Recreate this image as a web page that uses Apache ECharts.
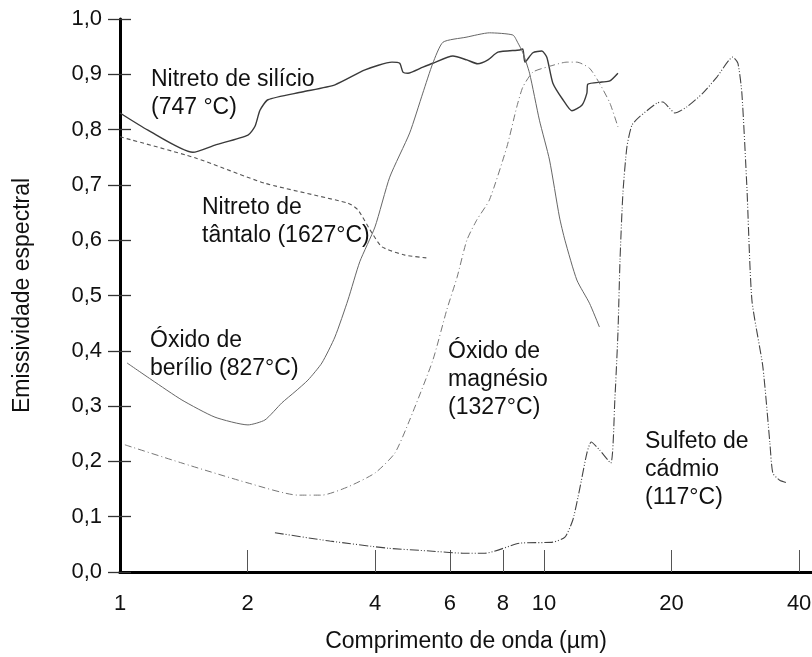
<!DOCTYPE html>
<html>
<head>
<meta charset="utf-8">
<script src="https://cdn.jsdelivr.net/npm/echarts@6/dist/echarts.min.js"></script>
<style>
  html, body { margin: 0; padding: 0; background: #fff; }
  #chart { width: 812px; height: 657px; }
</style>
</head>
<body>
<div id="chart"></div>
<script>
// comprimento de onda (um) x emissividade
var xTicks = [2, 4, 6, 8, 10, 20, 40];
var xLabels = [1, 2, 4, 6, 8, 10, 20, 40];

var nitretoSilicio = [
    [1.0, 0.830], [1.164, 0.799], [1.486, 0.759], [1.675, 0.772], [2.004, 0.790],
    [2.082, 0.806], [2.139, 0.835], [2.234, 0.854], [2.688, 0.868], [3.214, 0.881],
    [3.784, 0.908], [4.381, 0.922], [4.569, 0.920], [4.65, 0.904], [4.777, 0.902],
    [5.184, 0.913], [5.47, 0.920], [6.10, 0.933], [6.58, 0.926], [6.98, 0.919],
    [7.38, 0.926], [7.79, 0.940], [8.77, 0.944], [8.92, 0.946], [9.02, 0.922],
    [9.42, 0.939], [9.89, 0.942], [10.16, 0.931], [10.50, 0.884], [11.09, 0.854],
    [11.64, 0.834], [12.29, 0.844], [12.63, 0.866], [12.69, 0.882], [13.70, 0.886],
    [14.31, 0.888], [14.95, 0.902]
];
var nitretoTantalo = [
    [1.0, 0.787], [1.503, 0.749], [2.198, 0.703], [3.45, 0.667], [3.64, 0.655],
    [3.93, 0.613], [4.15, 0.588], [4.70, 0.573], [5.30, 0.568]
];
var oxidoBerilio = [
    [1.039, 0.378], [1.19, 0.347], [1.400, 0.311], [1.675, 0.280], [2.004, 0.266],
    [2.198, 0.275], [2.41, 0.306], [2.587, 0.326], [2.776, 0.347], [2.994, 0.378],
    [3.214, 0.425], [3.45, 0.492], [3.678, 0.561], [3.995, 0.624], [4.328, 0.714],
    [4.824, 0.794], [5.18, 0.866], [5.47, 0.920], [5.78, 0.958], [6.55, 0.967],
    [7.44, 0.975], [8.45, 0.971], [8.68, 0.957], [8.92, 0.939], [9.25, 0.902],
    [9.76, 0.817], [10.31, 0.745], [10.88, 0.642], [11.21, 0.600], [11.96, 0.528],
    [12.81, 0.486], [13.52, 0.443]
];
var oxidoMagnesio = [
    [1.027, 0.230], [1.400, 0.197], [2.004, 0.161], [2.63, 0.139], [2.994, 0.139],
    [3.45, 0.154], [3.995, 0.179], [4.45, 0.215], [4.824, 0.275], [5.47, 0.383],
    [5.90, 0.474], [6.24, 0.533], [6.58, 0.600], [6.95, 0.637], [7.44, 0.673],
    [8.18, 0.769], [8.63, 0.841], [8.92, 0.877], [9.42, 0.904], [10.16, 0.913],
    [11.33, 0.922], [11.96, 0.922], [12.81, 0.911], [13.52, 0.884], [14.31, 0.848],
    [14.95, 0.805]
];
var sulfetoCadmio = [
    [2.32, 0.071], [3.125, 0.056], [4.29, 0.043], [5.38, 0.038], [6.44, 0.034],
    [7.26, 0.034], [8.76, 0.052], [10.50, 0.054], [11.21, 0.063], [11.70, 0.094],
    [12.13, 0.148], [12.63, 0.215], [12.93, 0.235], [13.52, 0.221], [14.38, 0.197],
    [14.70, 0.311], [14.95, 0.432], [15.12, 0.564], [15.36, 0.685], [15.70, 0.769],
    [16.13, 0.808], [16.80, 0.823], [18.48, 0.848], [19.09, 0.850], [19.77, 0.839],
    [20.37, 0.830], [21.74, 0.841], [23.71, 0.866], [25.59, 0.895], [27.90, 0.931],
    [28.68, 0.920], [29.31, 0.866], [30.12, 0.696], [30.95, 0.492], [32.85, 0.371],
    [34.13, 0.233], [34.68, 0.179], [36.0, 0.166], [37.6, 0.161]
];

var FONT = 'Arial, "Liberation Sans", sans-serif';

function curve(name, data, color, width, type) {
    return {
        name: name,
        type: 'line',
        data: data,
        showSymbol: false,
        smooth: 0.2,
        lineStyle: { color: color, width: width, type: type }
    };
}

function note(text, left, top) {
    return {
        type: 'text',
        left: left,
        top: top,
        style: { text: text, font: '23px ' + FONT, lineHeight: 28, fill: '#111' }
    };
}

var option = {
    backgroundColor: '#fff',
    animation: false,
    grid: { left: 120, right: 0, top: 19, bottom: 85, outerBoundsMode: 'none', containLabel: false },
    xAxis: [{
        type: 'log',
        logBase: 10,
        min: 1,
        max: 42.9,
        name: 'Comprimento de onda (µm)',
        nameLocation: 'middle',
        nameGap: 58,
        nameTextStyle: { fontFamily: FONT, fontSize: 23, color: '#111' },
        axisLine: { lineStyle: { color: '#000', width: 3 } },
        axisTick: { inside: true, length: 22, customValues: xTicks, lineStyle: { color: '#555', width: 1 } },
        axisLabel: { customValues: xLabels, fontFamily: FONT, fontSize: 22, color: '#111', margin: 21 },
        splitLine: { show: false },
        minorTick: { show: false }
    }, {
        type: 'value',
        position: 'top',
        min: 0,
        max: 1,
        axisLine: { lineStyle: { color: '#000', width: 3 } },
        axisTick: { show: false },
        axisLabel: { show: false },
        splitLine: { show: false }
    }],
    yAxis: [{
        type: 'value',
        min: 0,
        max: 1,
        interval: 0.1,
        name: 'Emissividade espectral',
        nameLocation: 'middle',
        nameGap: 86,
        nameTextStyle: { fontFamily: FONT, fontSize: 23, color: '#111' },
        axisLine: { show: true, lineStyle: { color: '#000', width: 3 } },
        axisTick: { show: true, length: 12, lineStyle: { color: '#333', width: 1.3 } },
        axisLabel: {
            fontFamily: FONT, fontSize: 22, color: '#111', margin: 18,
            formatter: function (v) { return v.toFixed(1).replace('.', ','); }
        },
        splitLine: { show: false }
    }, {
        type: 'value',
        position: 'left',
        min: 0,
        max: 1,
        interval: 0.1,
        axisLine: { show: false },
        axisTick: { show: true, inside: true, length: 11, lineStyle: { color: '#333', width: 1.3 } },
        axisLabel: { show: false },
        splitLine: { show: false }
    }],
    series: [
        curve('Nitreto de silício', nitretoSilicio, '#3a3a3a', 1.4, 'solid'),
        curve('Nitreto de tântalo', nitretoTantalo, '#555', 1.1, [4, 3]),
        curve('Óxido de berílio', oxidoBerilio, '#666', 1, 'solid'),
        curve('Óxido de magnésio', oxidoMagnesio, '#777', 1, [7, 3, 1, 3]),
        curve('Sulfeto de cádmio', sulfetoCadmio, '#444', 1.1, [9, 2, 1, 2, 1, 2])
    ],
    graphic: [
        note('Nitreto de silício\n(747 °C)', 151, 66),
        note('Nitreto de\ntântalo (1627°C)', 202, 194),
        note('Óxido de\nberílio (827°C)', 150, 327),
        note('Óxido de\nmagnésio\n(1327°C)', 448, 338),
        note('Sulfeto de\ncádmio\n(117°C)', 645, 428)
    ]
};

var chart = echarts.init(document.getElementById('chart'));
chart.setOption(option);
</script>
</body>
</html>
